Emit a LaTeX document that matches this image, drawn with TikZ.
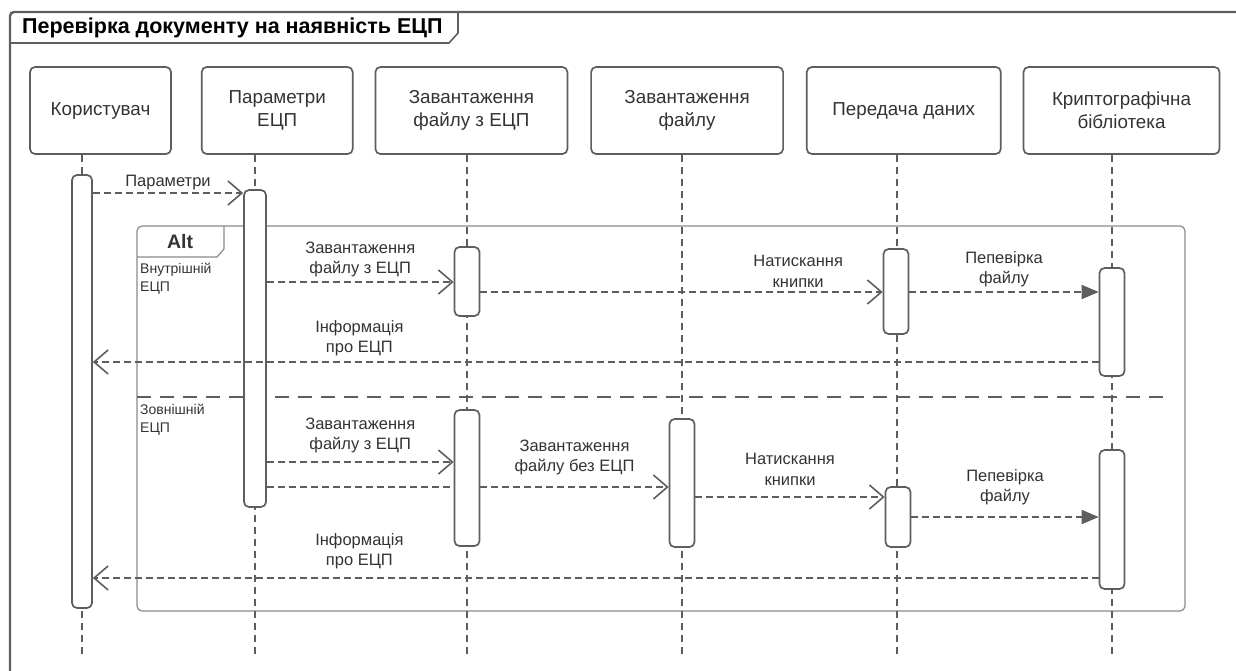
\documentclass[tikz,border=0pt]{standalone}
\usepackage{fontspec}
\setmainfont{Liberation Sans}
\usetikzlibrary{positioning, arrows.meta, calc}
\definecolor{umlline}{HTML}{5E5E5E}
\definecolor{umltext}{HTML}{333333}
\definecolor{framegrey}{HTML}{8A8A8A}

\begin{document}
\begin{tikzpicture}[x=1pt, y=-1pt,
      actor/.style={draw=umlline, line width=1.7pt, rounded corners=5pt,
        fill=white, text=umltext, align=center, inner sep=0pt,
        font=\fontsize{18.8}{22.5}\selectfont, minimum height=87pt},
      life/.style={umlline, line width=1.4pt, dash pattern=on 7pt off 5pt},
      bar/.style={draw=umlline, line width=1.7pt, rounded corners=5pt,
        fill=white, minimum width=25pt, inner sep=0pt},
      msg/.style={umlline, line width=1.8pt, dash pattern=on 7pt off 4pt,
        -{Straight Barb[length=14pt, width=24pt, line width=1.6pt]}},
      call/.style={umlline, line width=1.8pt, dash pattern=on 7pt off 4pt,
        -{Triangle[length=17pt, width=14pt]}},
      lbl/.style={text=umltext, align=center, inner sep=1pt,
        font=\fontsize{16.5}{20.5}\selectfont},
      guard/.style={text=umltext, align=left, anchor=north west, inner sep=0pt,
        font=\fontsize{14}{18}\selectfont}]
    \useasboundingbox (0,0) rectangle (1236,670);

    % outer frame with title tab
    \draw[umlline, line width=2.4pt, rounded corners=4pt] (10,675) -- (10,12) -- (1245,12);
    \draw[umlline, line width=1.6pt] (10,43) -- (449,43) -- (458,33) -- (458,12);
    \node[anchor=west, inner sep=0pt, font=\bfseries\fontsize{21.5}{24}\selectfont] (title) at (22,28)
      {Перевірка документу на наявність ЕЦП};

    % alt fragment
    \draw[framegrey, line width=1.2pt, rounded corners=5pt] (137,226) rectangle (1185,611);
    \draw[framegrey, line width=1.2pt] (137,257) -- (217,257) -- (224,249) -- (224,226);
    \node[font=\bfseries\fontsize{19.5}{22}\selectfont, text=umltext] (alt) at (180,242) {Alt};
    \draw[umlline, line width=1.2pt, dash pattern=on 14pt off 9pt] (137,397) -- (1170,397);
    \node[guard] (inner) at (140,263) {Внутрішній\\ЕЦП};
    \node[guard] (outer) at (140,404) {Зовнішній\\ЕЦП};

    % lifeline heads
    \node[actor, minimum width=141pt] (user) at (100.5,110.5) {Користувач};
    \node[actor, minimum width=151pt, right=29pt of user] (params) {Параметри\\ЕЦП};
    \node[actor, minimum width=192pt, right=21pt of params] (loadsig) {Завантаження\\файлу з ЕЦП};
    \node[actor, minimum width=192pt, right=22pt of loadsig] (loadfile) {Завантаження\\файлу};
    \node[actor, minimum width=194pt, right=22pt of loadfile] (transfer) {Передача даних};
    \node[actor, minimum width=196pt, right=21pt of transfer] (crypto) {Криптографічна\\бібліотека};

    \foreach \n/\x in {user/82, params/255, loadsig/467, loadfile/682, transfer/897, crypto/1112} {
      \coordinate (\n-end) at (\x,654);
      \draw[life] (\n.south -| \n-end) -- (\n-end);
    }

    % activations
    \node[bar, minimum width=20pt, minimum height=433pt] (userAct) at (82,391.5) {};
    \node[bar, minimum width=22pt, minimum height=317pt] (paramAct) at (255,348.5) {};
    \node[bar, minimum height=69pt] (sigAct1) at (467,281.5) {};
    \node[bar, minimum height=85pt] (sendAct1) at (896,291.5) {};
    \node[bar, minimum height=108pt] (cryptAct1) at (1112,322) {};
    \node[bar, minimum height=136pt] (sigAct2) at (467,478) {};
    \node[bar, minimum height=128pt] (fileAct2) at (682,483) {};
    \node[bar, minimum height=60pt] (sendAct2) at (898,517) {};
    \node[bar, minimum height=139pt] (cryptAct2) at (1112,519.5) {};

    % messages
    \draw[msg] (userAct.east |- 0,193) -- node[lbl, above=1pt] (m1) {Параметри} (paramAct.west |- 0,193);
    % internal signature
    \draw[msg] (paramAct.east |- 0,282) -- node[lbl, above=3pt] (m2) {Завантаження\\файлу з ЕЦП} (sigAct1.west |- 0,282);
    \draw[msg] (sigAct1.east |- 0,292) -- node[lbl, above=3pt, pos=0.79] (m3) {Натискання\\книпки} (sendAct1.west |- 0,292);
    \draw[call] (sendAct1.east |- 0,292) -- node[lbl, above=3pt] (m4) {Пепевірка\\файлу} (cryptAct1.west |- 0,292);
    \draw[msg] (cryptAct1.west |- 0,362) -- node[lbl, above=4pt, pos=0.735] (m5) {Інформація\\про ЕЦП} (userAct.east |- 0,362);
    % external signature
    \draw[msg] (paramAct.east |- 0,462) -- node[lbl, above=7pt] (m6) {Завантаження\\файлу з ЕЦП} (sigAct2.west |- 0,462);
    \draw[umlline, line width=1.8pt, dash pattern=on 7pt off 4pt] (paramAct.east |- 0,487) -- (sigAct2.west |- 0,487);
    \draw[msg] (sigAct2.east |- 0,487) -- node[lbl, above=10pt] (m7) {Завантаження\\файлу без ЕЦП} (fileAct2.west |- 0,487);
    \draw[msg] (fileAct2.east |- 0,497) -- node[lbl, above=10pt] (m8) {Натискання\\книпки} (sendAct2.west |- 0,497);
    \draw[call] (sendAct2.east |- 0,517) -- node[lbl, above=10pt] (m9) {Пепевірка\\файлу} (cryptAct2.west |- 0,517);
    \draw[msg] (cryptAct2.west |- 0,578) -- node[lbl, above=7pt, pos=0.735] (m10) {Інформація\\про ЕЦП} (userAct.east |- 0,578);
  \end{tikzpicture}
\end{document}
